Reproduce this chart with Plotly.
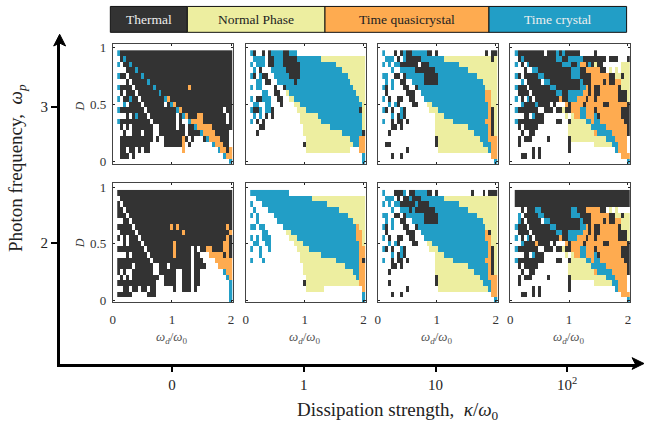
import plotly.graph_objects as go

W, H = 645, 434

# Phase maps: one row per D value (top row D=0.95, bottom row D=0), run-length coded over 39 omega_d values.
# . none, T thermal, N normal phase, Q time quasicrystal, C time crystal
phase_w3_k0 = [
"C T38", ". T C T36", "C . T2 C T34", ".3 T3 C T32", "C T2 . T4 C T30", ".3 T . T5 C T28",
"C T4 . T6 C T11 Q T14", ". T . T3 . T7 C T24", "C . T2 C T2 . T8 C Q T21",
".2 C . T4 . T7 . T C Q T19", "C T8 . T10 C Q T14 . T2",
".3 T . T C T3 . T9 . T C Q T3 Q2 T8 . T", "C T10 . T8 . T .2 C Q4 T8 . T",
". T . T . T7 .2 T6 . T2 . T2 C Q5 T7", ".2 T .2 T3 . T3 .2 T9 . T4 C Q4 T5 .",
". T11 . T .2 T6 Q T . T .3 T C Q4 T3 .", ". T10 .5 T6 Q . T .7 C Q3 T2 .",
". T2 . T2 . T . T2 .11 Q .11 C Q2 T Q", ". T3 . T .30 C Q2", ".38 C"]
phase_w3_k1 = [
"C T .2 T . T C4 T2 C3 .23", ". C4 . T2 C3 T5 C8 N15", "C . C3 . T2 C3 T6 C12 N10",
". C . T .3 C5 T5 C14 N8", "C T . C T2 .2 C5 T4 C16 N6", ".2 C2 . T2 .2 C6 T C18 N5",
"C . C2 .4 T .2 T C23 N4", ".4 C2 .2 T2 .2 N C23 N3", "C . T2 C3 .2 T2 .2 N2 C22 N2",
". C2 .2 C2 .3 T .4 N2 C21 N", "C T2 C . C2 T .8 N3 C18 T N", ". C . C . T . T .9 N6 C15 N",
"C . T . T .12 N7 C14 N", ".3 T2 .13 N9 C11 N", ".2 T .15 N13 C7 T", ".19 N15 C3 Q2",
".18 T N16 C2 Q2", ".19 N15 .3 Q2", ".38 C", ".38 C"]
phase_w3_k10 = [
"C .3 T . T C T2 C5 T2 . T .16 T . T2", ". C3 . T . C T5 C8 N16 T N", "C . C . C2 T6 . T3 C10 N13",
".3 C .2 C5 T7 C11 N10", "C2 .2 T2 . T C6 T5 C13 N7", ". C . C .2 T2 .2 C4 T5 C15 N5",
"C T . C .3 T2 .2 T C23 N4", ". T .6 T3 .2 C22 Q2 N2", "C . T .2 T2 .2 T2 .3 C21 Q2 N2",
".2 C . C T .4 T2 .3 N2 C19 Q N2", "C T . T .2 C T .8 N3 C17 Q T N", ".3 C . T C T .10 N3 C15 Q T N",
"C .2 T . T2 . T .9 N6 C11 Q2 T N", ".3 T2 . T .11 N11 C7 Q T N", ".2 T .15 N13 C5 Q T N",
".18 T N14 C3 Q3", ". T2 .15 T N15 C3 Q2", ".8 T .10 N17 C Q2", ".3 T .2 T .30 Q2", ".38 C"]
phase_w3_k100 = [
"C T9 . T3 C T C T5 .5 T .11", ". T C T11 C2 T2 C5 T8 . T3 .3 T",
"C . T . C T11 C3 T2 C Q2 T C T N T2 .6 N3", ".3 T .2 C2 T11 C3 T2 Q5 T2 . N . N . N3",
"C T . T5 C2 T9 C3 T4 Q6 T2 N2 T N2", ".2 C . T5 . C2 T10 C T3 Q4 T Q T2 Q2 N3",
"C T3 . T7 C2 T8 C2 Q T Q T2 Q6 T N3", ". T4 . T8 C2 T2 C5 Q2 T Q T2 Q6 T3 N",
"C . T . C T . T8 Q T2 C3 Q3 T Q2 T Q7 T3 N", ".2 C T4 C T4 . T .3 Q T Q4 T Q6 T2 Q6 T",
"C T7 .2 T3 . T2 N T2 Q3 C2 Q3 T Q8 T3", ".3 T2 . C T3 .7 N . N Q2 C2 Q3 C T Q7 T3",
"C T9 .4 T2 .2 T N5 C2 Q C2 Q8 T2", ". T . T5 .10 N8 C5 Q7 T", ".2 T .2 T2 .11 N9 Q C5 Q5 T",
". T . T3 .5 T .6 T N12 C3 Q4 .", ". T .16 T .8 N6 C2 Q3 .", ".6 T . T .9 T .15 C Q3 .",
".2 T2 .2 T . T .27 Q3", ".38 C"]
phase_w2_k0 = [
"T39", ". T38", "T . T37", "T2 . T36", "T3 . T35", ".2 T2 . T34", "T5 . T12 Q T Q T16 Q T",
". T5 . T15 Q T15 Q", "T . T . T3 . T29 Q T", ".2 T . T4 . T10 Q T16 Q2 T",
"T9 . T9 Q T5 . T . T2 Q2 T4 Q2 T", ".3 T . T5 . T8 Q T5 . T2 .3 Q5 T Q T",
"T11 . T13 . T3 .4 Q6", "T5 . T6 .2 T3 . T7 . T4 .4 Q5",
"T . T .2 T7 .2 T6 .2 T3 . T2 .8 C Q2", ". T . T . T9 .2 T4 .2 T3 . T2 .9 C Q",
"T13 .3 T4 .2 T3 . T2 .10 C", ".2 T2 . T2 . T2 . T2 .6 T .2 T3 . T .11 C",
"T5 .5 T3 .25 C", ".38 C"]
phase_w2_k1 = [
"C13 .26", ".2 C19 N18", "C .3 C22 N13", ". C .4 C24 N9", "C . C .5 C25 N6", ".2 C .6 C26 N4",
"C2 . C2 .6 C25 Q N2", ".4 C2 .6 N2 C22 Q2 N", "C . C . C3 .6 N3 C20 Q2 N",
". C2 .2 C2 .8 N3 C19 Q N", "C .2 C .2 C .9 N4 C17 Q2", ".3 C .13 N7 C13 Q2",
"C .3 C .12 N12 C8 Q T", ".18 N14 C5 Q2", ".18 N17 C2 Q2", ".19 N17 C Q2", ".18 T N18 Q2",
".19 N6 .13 Q", ".38 C", ".38 C"]
phase_w2_k10 = [
"C .3 T3 C . T2 C4 T2 . T .11 T .3 T . T3", ". C3 . T . T2 C T3 C8 N18", "C . C . C2 T5 C T4 C10 N13",
".3 C .2 C3 T C T7 C11 N10", "C2 .2 T2 . T C6 T5 C13 N7", ". C . C .2 T2 .2 C4 T5 C15 N5",
"C T . C .3 T2 .2 T C23 N4", ". T .6 T3 .2 C22 Q T N2", "C . T .2 T2 .2 T2 .3 C21 Q2 N2",
".2 C . C T .4 T2 .3 N2 C19 Q N2", "C T . T .2 C T .8 N3 C17 Q T N", ".3 C . T C T .10 N3 C15 Q T N",
"C .2 T . T2 . T .9 N6 C11 Q2 T N", ".3 T2 . T .11 N11 C7 Q T N", ".2 T .15 N13 C5 Q T N",
".18 T N14 C3 Q3", ".2 T .15 T N15 C3 Q2", ".8 T .10 N17 C Q2", ".3 T .2 T .30 Q2", ".38 C"]
phase_w2_k100 = [
"T39", "T39", "T39", ".2 T . T3 C2 T10 C2 T3 Q5 T2 . N . N .4",
". C . T5 C2 T9 C3 T4 Q6 T2 N2 T N2", ". C T . T5 . C2 T10 C T3 Q4 T Q T2 Q2 N3",
"C T3 . T7 C2 T8 C2 Q T Q T2 Q6 T N3", ". T4 . T8 C2 T2 C5 Q2 T Q T2 Q6 T3 N",
"C . T . C T . T8 Q T2 C3 Q3 T Q2 T Q7 T3 N", ".2 C T4 Q T4 . T .3 Q T Q4 T Q6 T2 Q6 T",
"C T7 .2 T3 . T2 N T2 Q3 C2 Q3 T Q8 T3", ".3 T2 . C T3 .7 N . N Q2 C2 Q3 C T Q7 T3",
"C T9 .4 T2 .2 T N5 C2 Q C2 Q8 T2", ". T . T5 .10 N8 C5 Q7 T", ".2 T .2 T2 .11 N9 Q C5 Q5 T",
". T . T3 .5 T .6 T N12 C3 Q4 .", ". T .16 T .8 N6 C2 Q3 .", ".6 T . T .9 T .15 C Q3 .",
".2 T2 .2 T . T .27 Q3", ".38 C"]

omega_d = [0.10 + 0.05 * i for i in range(39)]
D_vals = [0.95 - 0.05 * i for i in range(20)]
x_ticks = [0, 1, 2]
y_ticks = [0, 0.5, 1]
y_ticklabels = ["0", "0.5", "1"]
kappa_labels = ["0", "1", "10", "10<sup>2</sup>"]
photon_labels = ["2", "3"]
legend_names = ["Thermal", "Normal Phase", "Time quasicrystal", "Time crystal"]
legend_codes = ["T", "N", "Q", "C"]
legend_edges = [108, 185.5, 324, 489, 627.5]
legend_text = ["#eeeeee", "#222222", "#222222", "#eeeeee"]

colors = {".": "#ffffff", "T": "#333333", "N": "#edeea0", "Q": "#feab50", "C": "#229ec6"}
code = {".": 0, "T": 1, "N": 2, "Q": 3, "C": 4}
colorscale = []
for i, k in enumerate(".TNQC"):
    colorscale += [[i / 5, colors[k]], [(i + 1) / 5, colors[k]]]


def decode(rows):
    out = []
    for row in rows:
        vals = []
        for tok in row.split():
            vals += [code[tok[0]]] * (int(tok[1:]) if len(tok) > 1 else 1)
        vals = (vals + [0] * 39)[:39]
        out.append(vals)
    return out


panels = [phase_w3_k0, phase_w3_k1, phase_w3_k10, phase_w3_k100,
          phase_w2_k0, phase_w2_k1, phase_w2_k10, phase_w2_k100]
left_px = [110.5, 244.3, 377.2, 510.5]
right_px = [231.7, 365, 497.9, 631]
row_px = [(40.5, 163.5), (183.5, 305.5)]


def fx(p):
    return p / W


def fy(p):
    return 1 - p / H


SERIF = "Liberation Serif"
fig = go.Figure()
layout = dict(width=W, height=H, margin=dict(l=0, r=0, t=0, b=0), paper_bgcolor="white",
              plot_bgcolor="rgba(0,0,0,0)", showlegend=False, font=dict(family=SERIF, color="#222222"))
annotations, shapes = [], []


def note(text, x, y, size, color="#222222", angle=0):
    annotations.append(dict(text=text, xref="paper", yref="paper", x=fx(x), y=fy(y), xanchor="center",
                            yanchor="middle", textangle=angle, showarrow=False,
                            font=dict(family=SERIF, size=size, color=color)))


for n, rows in enumerate(panels):
    r, c = n // 4, n % 4
    idx = n + 1
    fig.add_trace(go.Heatmap(x=omega_d, y=D_vals, z=decode(rows), zmin=0, zmax=5, colorscale=colorscale,
                             showscale=False, hoverinfo="skip", xaxis=f"x{idx}", yaxis=f"y{idx}"))
    layout[f"xaxis{idx}"] = dict(domain=[fx(left_px[c]), fx(right_px[c])], range=[0, 2.037], anchor=f"y{idx}",
                                 tickvals=x_ticks, ticks="inside", ticklen=2, tickwidth=1, tickcolor="#222222",
                                 mirror="ticks", showline=True, linecolor="#444444", linewidth=1, showgrid=False,
                                 zeroline=False, showticklabels=r == 1, ticklabelstandoff=5,
                                 tickfont=dict(family=SERIF, size=13, color="#333333"))
    layout[f"yaxis{idx}"] = dict(domain=[fy(row_px[r][1]), fy(row_px[r][0])], range=[-0.017, 1.034], anchor=f"x{idx}",
                                 tickvals=y_ticks, ticktext=y_ticklabels, ticks="inside", ticklen=2, tickwidth=1,
                                 tickcolor="#222222", mirror="ticks", showline=True, linecolor="#444444", linewidth=1,
                                 showgrid=False, zeroline=False, showticklabels=c == 0, ticklabelstandoff=3,
                                 tickfont=dict(family=SERIF, size=13, color="#333333"))
    if r == 1:
        note("<i>ω<sub>d</sub></i>/<i>ω</i><sub>0</sub>", left_px[c] + 59.5, 341, 13, "#555555")
    if c == 0:
        note("<i>D</i>", 77.5, 105 if r == 0 else 245, 12, "#333333", -90)

# large outer axes
fig.add_trace(go.Scatter(x=[None], y=[None], xaxis="x9", yaxis="y9", hoverinfo="skip"))
layout["xaxis9"] = dict(domain=[fx(57), fx(636)], range=[-0.854, 3.515], anchor="y9", tickvals=[0, 1, 2, 3],
                        ticktext=kappa_labels, ticks="outside", ticklen=6, tickwidth=2, tickcolor="black",
                        showline=True, linecolor="black", linewidth=2.5, showgrid=False, zeroline=False,
                        tickfont=dict(family=SERIF, size=15, color="#222222"))
layout["yaxis9"] = dict(domain=[fy(368), fy(36)], range=[1.115, 3.496], anchor="x9", tickvals=[2, 3],
                        ticktext=photon_labels, ticks="outside", ticklen=6, tickwidth=2, tickcolor="black",
                        showline=True, linecolor="black", linewidth=2.5, showgrid=False, zeroline=False,
                        tickfont=dict(family=SERIF, size=15, color="#222222"))

shapes.append(dict(type="path", xref="paper", yref="paper", fillcolor="black", line=dict(color="black", width=1),
                   path=f"M {fx(645)} {fy(368)} L {fx(633)} {fy(362)} L {fx(636)} {fy(368)} L {fx(633)} {fy(374)} Z"))
shapes.append(dict(type="path", xref="paper", yref="paper", fillcolor="black", line=dict(color="black", width=1),
                   path=f"M {fx(57)} {fy(31)} L {fx(51)} {fy(43)} L {fx(57)} {fy(40)} L {fx(63)} {fy(43)} Z"))

note("Dissipation strength,  <i>κ</i>/<i>ω</i><sub>0</sub>", 397, 417, 19)
note("Photon frequency,  <i>ω<sub>p</sub></i>", 14, 168, 19, "#222222", -90)

# phase key
for i, name in enumerate(legend_names):
    shapes.append(dict(type="rect", xref="paper", yref="paper", x0=fx(legend_edges[i]), x1=fx(legend_edges[i + 1]),
                       y0=fy(29), y1=fy(2.5), fillcolor=colors[legend_codes[i]], line=dict(color="#111111", width=1)))
    note(name, (legend_edges[i] + legend_edges[i + 1]) / 2, 16, 13.5, legend_text[i])

layout["annotations"] = annotations
layout["shapes"] = shapes
fig.update_layout(**layout)
fig.write_html("out.html", config=dict(displayModeBar=False),
               post_script="document.body.style.margin='0';document.body.style.overflow='hidden';")
